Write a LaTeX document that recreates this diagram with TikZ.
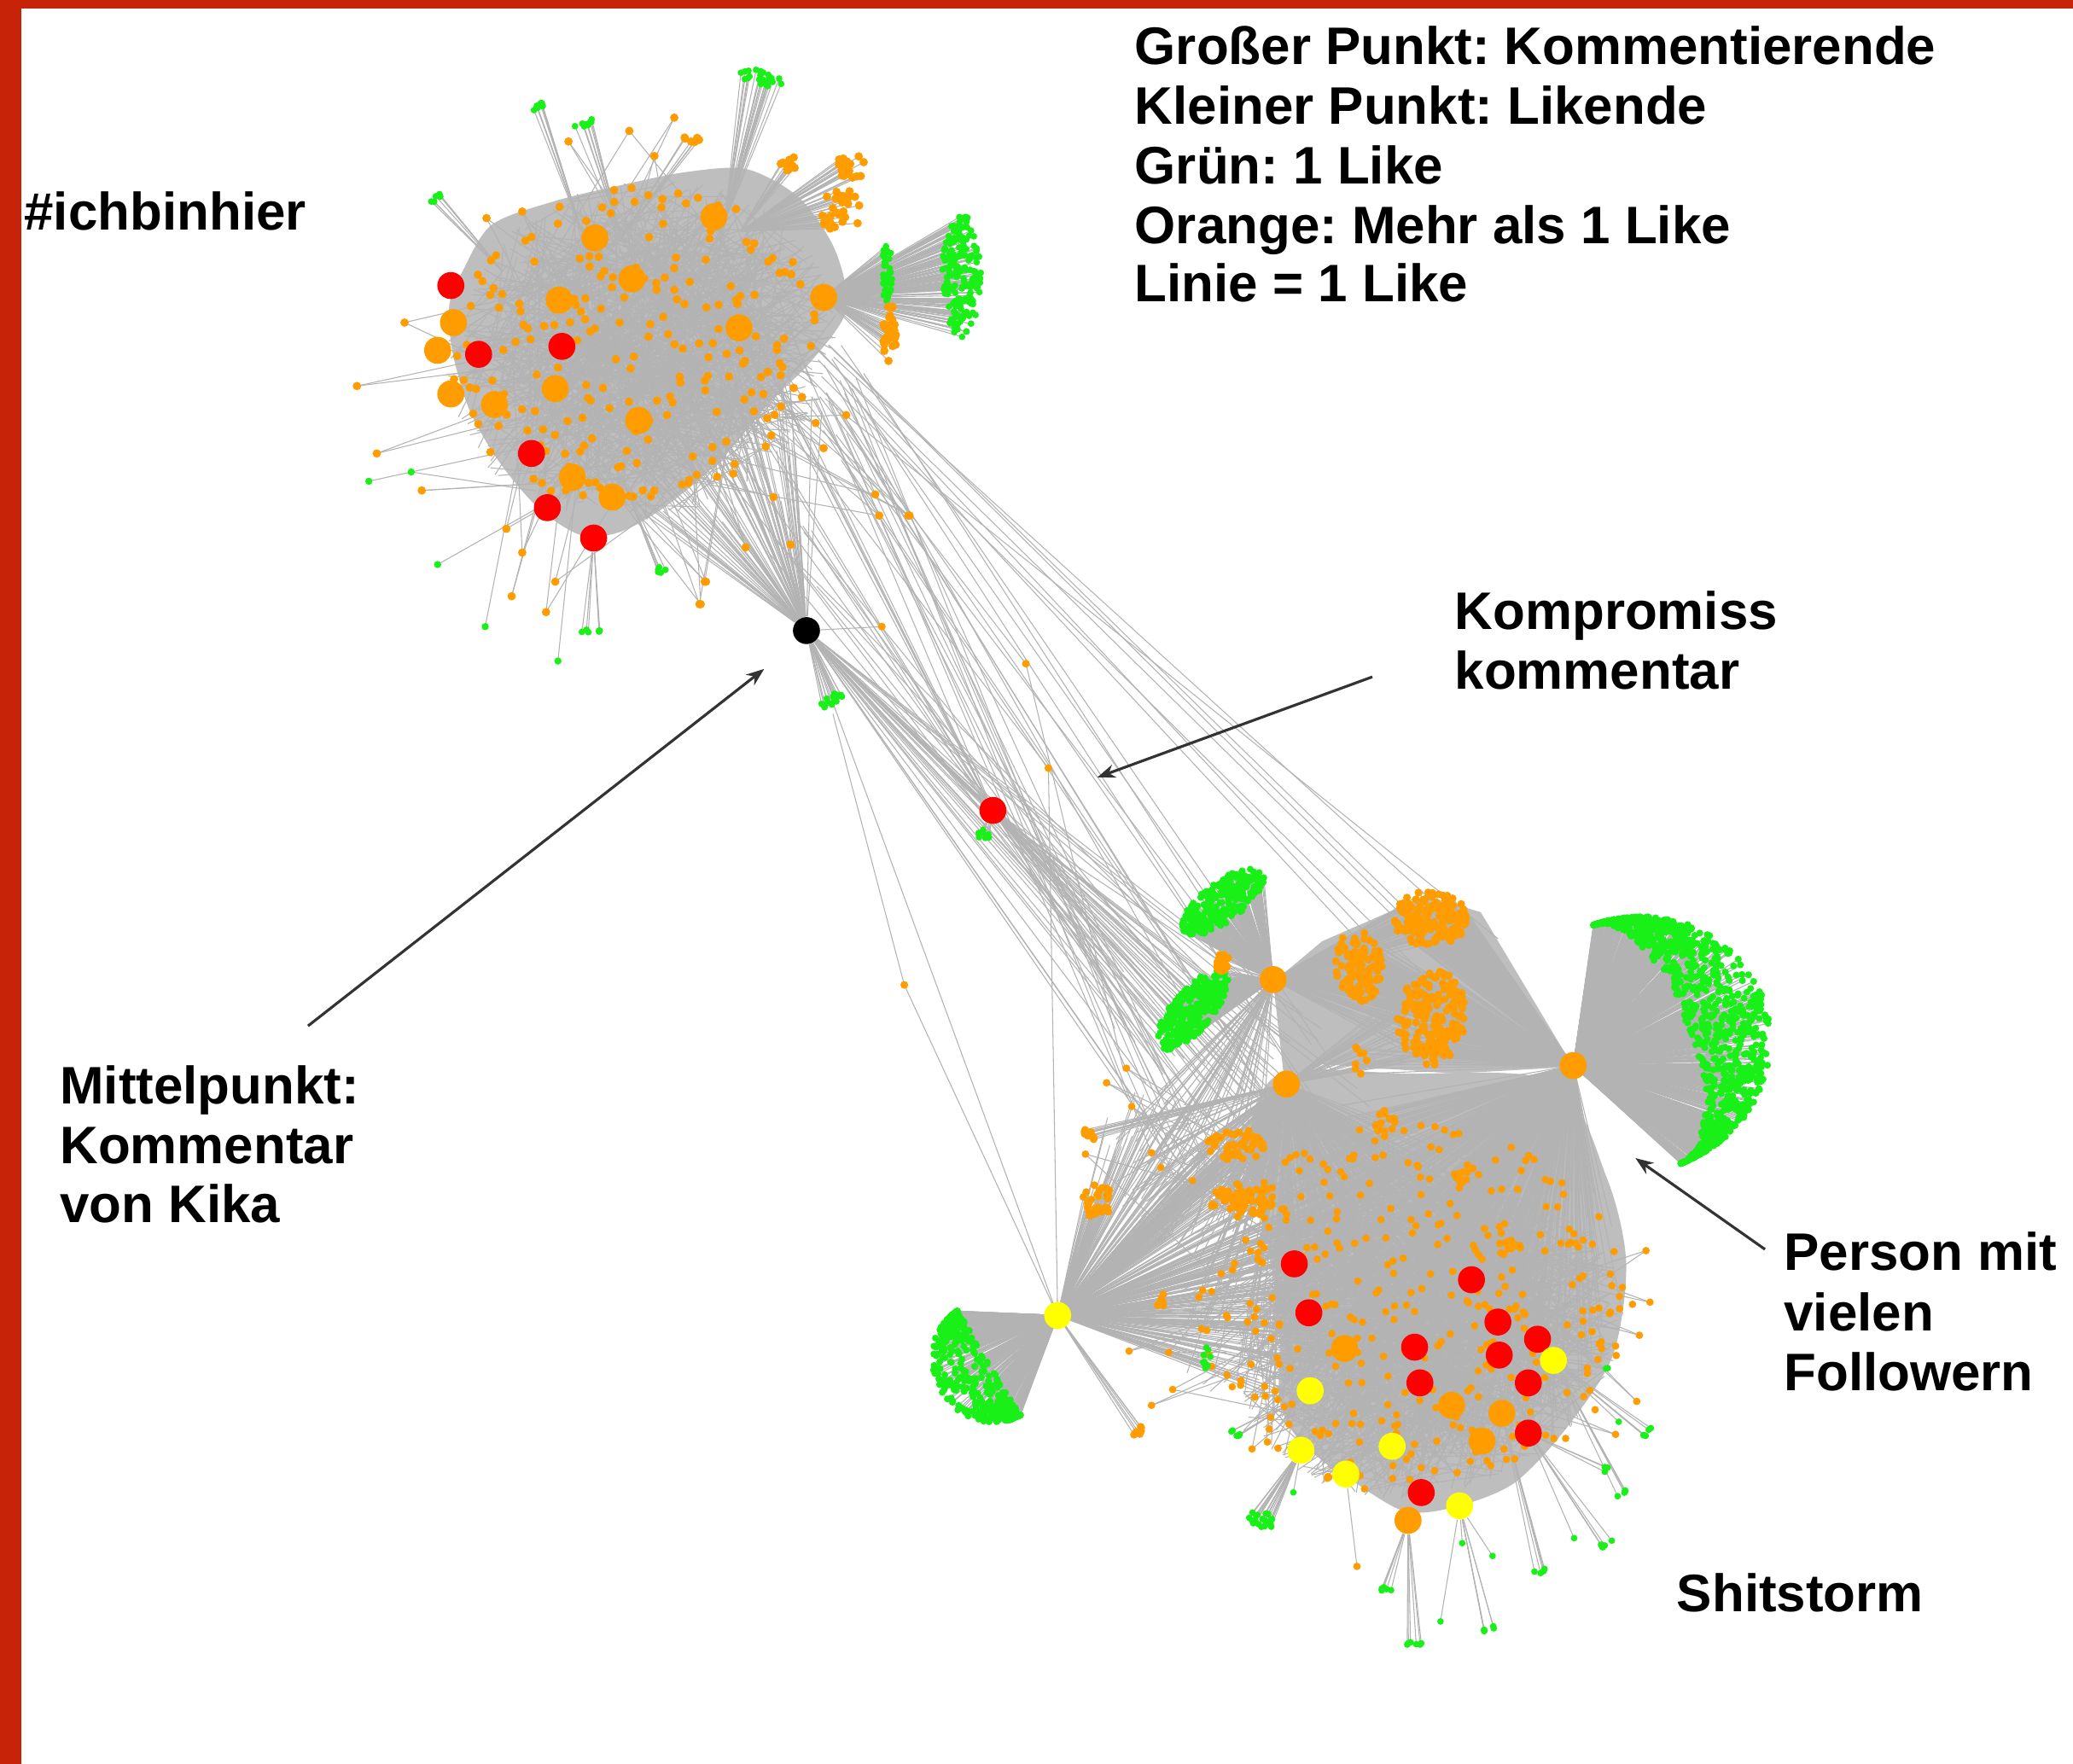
\documentclass[tikz,border=0pt]{standalone}
\usepackage{fontspec}
\setmainfont{Liberation Sans}
\frenchspacing
\usetikzlibrary{arrows.meta}
\pgfdeclarelayer{edges}
\pgfsetlayers{edges,main}
\definecolor{frameRed}{HTML}{C62309}
\definecolor{edgeGray}{HTML}{B3B3B3}
\definecolor{dotOrange}{HTML}{FF9C00}
\definecolor{dotGreen}{HTML}{18F018}
\definecolor{dotRed}{HTML}{FF0000}
\definecolor{dotYellow}{HTML}{FFFF00}
\definecolor{arrowGray}{HTML}{333333}
% random point in rotated ellipse
\newcommand\ellpt[5]{%
  \pgfmathsetmacro\tA{360*rnd}%
  \pgfmathsetmacro\tR{sqrt(rnd)}%
  \pgfmathsetmacro\lx{#3*\tR*cos(\tA)}%
  \pgfmathsetmacro\ly{#4*\tR*sin(\tA)}%
  \pgfmathsetmacro\px{#1+\lx*cos(#5)-\ly*sin(#5)}%
  \pgfmathsetmacro\py{#2+\lx*sin(#5)+\ly*cos(#5)}}
% random point in half-ellipse / crescent
\newcommand\dpt[6]{%
  \pgfmathsetmacro\tA{-90+180*rnd}%
  \pgfmathsetmacro\tU{#6+(1-#6)*rnd}%
  \pgfmathsetmacro\lx{#4*\tU*cos(\tA)}%
  \pgfmathsetmacro\ly{#3*sin(\tA)}%
  \pgfmathsetmacro\px{#1+\lx*cos(#5)-\ly*sin(#5)}%
  \pgfmathsetmacro\py{#2+\lx*sin(#5)+\ly*cos(#5)}}
\newcommand\spokeE[7]{\begin{pgfonlayer}{edges}\foreach \i in {1,...,#7}{\ellpt{#2}{#3}{#4}{#5}{#6}\draw[edge] (#1) -- (\px,\py);}\end{pgfonlayer}}
\newcommand\dotsE[7]{\foreach \i in {1,...,#6}{\ellpt{#1}{#2}{#3}{#4}{#5}\fill[#7] (\px,\py) circle[radius=\dr];}}
\newcommand\fanE[9]{\pgfmathsetseed{#9}\spokeE{#1}{#2}{#3}{#4}{#5}{#6}{#7}\pgfmathsetseed{#9}\dotsE{#2}{#3}{#4}{#5}{#6}{#7}{#8}}
\newcommand\fanD[9]{%
  \pgfmathsetseed{#9}\begin{pgfonlayer}{edges}\foreach \i in {1,...,#8}{\dpt{#2}{#3}{#4}{#5}{#6}{#7}\draw[edge] (#1) -- (\px,\py);}\end{pgfonlayer}%
  \pgfmathsetseed{#9}\foreach \i in {1,...,#8}{\dpt{#2}{#3}{#4}{#5}{#6}{#7}\fill[dotGreen] (\px,\py) circle[radius=\dr];}}
\newcommand\meshE[7]{\pgfmathsetseed{#7}\begin{pgfonlayer}{edges}\foreach \i in {1,...,#6}{\ellpt{#1}{#2}{#3}{#4}{#5}\let\qx\px\let\qy\py\ellpt{#1}{#2}{#3}{#4}{#5}\draw[edge] (\qx,\qy) -- (\px,\py);}\end{pgfonlayer}}
\newcommand\linkE[9]{\begin{pgfonlayer}{edges}\foreach \i in {1,...,#9}{\ellpt{#1}{#2}{#3}{#4}{0}\let\qx\px\let\qy\py\ellpt{#5}{#6}{#7}{#8}{0}\draw[edge] (\qx,\qy) -- (\px,\py);}\end{pgfonlayer}}
% satellites: list, target cx, cy, rx, ry, lines each, colour
\newcommand\satE[7]{\foreach \sX/\sY in {#1}{\foreach \j in {1,...,#6}{\ellpt{#2}{#3}{#4}{#5}{0}\begin{pgfonlayer}{edges}\draw[edge] (\sX,\sY) -- (\px,\py);\end{pgfonlayer}}\fill[#7] (\sX,\sY) circle[radius=\dr];}}
\begin{document}
\begin{tikzpicture}[x=0.01549cm,y=-0.01549cm,
  edge/.style={draw=edgeGray,line width=0.3pt},
  big/.style={circle,inner sep=0pt,minimum size=9pt},
  lbl/.style={font=\bfseries\fontsize{17.6}{19.8}\selectfont,anchor=base west,inner sep=0pt},
  pointer/.style={draw=arrowGray,line width=0.9pt,-{Stealth[length=6pt,width=4.5pt]}}]
\useasboundingbox (0,0) rectangle (1568,1334);
\begin{pgfonlayer}{edges}
\fill[white] (0,0) rectangle (1568,1334);
% cluster cores
\fill[edgeGray!85] plot[smooth cycle] coordinates {(350,205) (372,170) (420,152) (470,140) (520,130) (565,128) (605,150) (632,190) (640,235) (612,275) (578,308) (548,345) (505,382) (470,402) (440,405) (408,385) (378,350) (355,310) (342,265) (340,230)};
\fill[edgeGray!85] plot[smooth cycle] coordinates {(975,810) (1060,812) (1175,818) (1215,890) (1230,955) (1220,1025) (1185,1080) (1145,1122) (1100,1140) (1062,1143) (1020,1118) (985,1092) (968,1060) (968,1000) (958,940) (945,880) (950,835)};
\fill[edgeGray!85] (963,743) -- (1000,712) -- (1055,688) -- (1080,678) -- (1120,690) -- (1190,807) -- (1100,812) -- (1000,805) -- (972,822) -- cycle;
\end{pgfonlayer}
\fill[frameRed] (0,0) rectangle (16,1334);
\fill[frameRed] (0,0) rectangle (1568,6.5);

% ---------------- cluster 1 ----------------
\coordinate (h1) at (623,225);
\coordinate (t1) at (548,168);
\coordinate (t2) at (440,175);
\coordinate (t3) at (470,180);
\coordinate (t4) at (380,205);
\coordinate (t5) at (560,175);
\coordinate (t6) at (470,360);
\meshE{485}{265}{150}{128}{-15}{650}{11}
\def\dr{1.4pt}
\pgfmathsetseed{12}\dotsE{480}{262}{140}{120}{-15}{230}{fill=dotOrange}
\def\dr{1.1pt}
\fanE{h1}{727}{209}{15}{47}{0}{190}{fill=dotGreen}{21}
\fanE{h1}{671}{207}{4}{24}{0}{35}{fill=dotGreen}{22}
\fanE{t1}{575}{59}{18}{6}{12}{24}{fill=dotGreen}{24}
\fanE{t2}{408}{79}{7}{3}{-30}{8}{fill=dotGreen}{25}
\fanE{t3}{442}{94}{8}{3}{-20}{8}{fill=dotGreen}{26}
\fanE{t4}{330}{150}{7}{3}{-50}{7}{fill=dotGreen}{27}
\fanE{t6}{502}{430}{6}{3}{-30}{5}{fill=dotGreen}{28}
\def\dr{1.4pt}
\fanE{h1}{673}{252}{5}{24}{0}{30}{fill=dotOrange}{23}
\fanE{t5}{644}{126}{12}{9}{0}{20}{fill=dotOrange}{29}
\fanE{t5}{636}{160}{15}{18}{0}{30}{fill=dotOrange}{30}
\fanE{t5}{598}{124}{8}{6}{0}{10}{fill=dotOrange}{31}
\fanE{t3}{524}{105}{10}{3}{0}{6}{fill=dotOrange}{32}
\pgfmathsetseed{40}
\satE{270/292,285/343,319/371,383/400,395/418,387/451,413/463,420/440,530/457,534/440,598/412,585/376,617/320,640/314,623/339,662/374,687/390,665/390,688/390,510/89,476/99,430/107,495/118,368/165,395/160,306/244,564/414,533/440,529/457}{485}{268}{120}{100}{2}{fill=dotOrange}
\def\dr{1.2pt}
\satE{279/364,311/357,331/427,367/474,422/500}{430}{330}{60}{50}{1}{fill=dotGreen}

% big nodes cluster 1
\node[big,fill=dotOrange] (c1o1) at (450,180) {};
\node[big,fill=dotOrange] (c1o2) at (540,164) {};
\node[big,fill=dotOrange] (c1o3) at (478,211) {};
\node[big,fill=dotOrange] (c1o4) at (423,227) {};
\node[big,fill=dotOrange] (c1o5) at (623,225) {};
\node[big,fill=dotOrange] (c1o6) at (559,248) {};
\node[big,fill=dotOrange] (c1o7) at (343,244) {};
\node[big,fill=dotOrange] (c1o8) at (331,265) {};
\node[big,fill=dotOrange] (c1o9) at (341,298) {};
\node[big,fill=dotOrange] (c1o10) at (374,306) {};
\node[big,fill=dotOrange] (c1o11) at (420,294) {};
\node[big,fill=dotOrange] (c1o12) at (483,318) {};
\node[big,fill=dotOrange] (c1o13) at (433,361) {};
\node[big,fill=dotOrange] (c1o14) at (463,376) {};
\node[big,fill=dotRed] (c1r1) at (341,216) {};
\node[big,fill=dotRed] (c1r2) at (362,268) {};
\node[big,fill=dotRed] (c1r3) at (425,262) {};
\node[big,fill=dotRed] (c1r4) at (402,343) {};
\node[big,fill=dotRed] (c1r5) at (414,384) {};
\node[big,fill=dotRed] (c1r6) at (449,407) {};
\def\dr{1.1pt}
\fanE{c1r6}{447}{478}{8}{2}{0}{6}{fill=dotGreen}{33}

% ---------------- between ----------------
\node[big,fill=black] (kika) at (610,477) {};
\node[big,fill=dotRed] (komp) at (751,613) {};
\pgfmathsetseed{50}
\spokeE{kika}{540}{330}{90}{70}{-30}{75}
\spokeE{kika}{930}{820}{80}{90}{0}{24}
\spokeE{kika}{751}{613}{3}{3}{0}{6}
\spokeE{komp}{960}{820}{80}{70}{0}{22}
\spokeE{komp}{570}{300}{60}{60}{0}{10}
\linkE{630}{300}{25}{50}{920}{810}{90}{90}{22}
\linkE{600}{420}{30}{30}{880}{760}{60}{60}{8}
\linkE{625}{285}{20}{40}{1090}{720}{60}{40}{8}
\fanE{kika}{630}{530}{10}{5}{-30}{15}{fill=dotGreen}{51}
\fanE{komp}{744}{631}{6}{4}{0}{8}{fill=dotGreen}{52}
\coordinate (m1) at (684,745);
\coordinate (m2) at (793,581);
\coordinate (m3) at (776,502);
\coordinate (m4) at (667,474);
\begin{pgfonlayer}{edges}
\draw[edge] (kika) -- (m4);
\draw[edge] (630,540) -- (m1) -- (800,995);
\draw[edge] (600,330) -- (m2) -- (800,995);
\draw[edge] (620,300) -- (m3) -- (850,810);
\draw[edge] (kika) -- (800,995);
\end{pgfonlayer}
\def\dr{1.3pt}
\foreach \mm in {m1,m2,m3,m4}{\fill[dotOrange] (\mm) circle[radius=\dr];}

% ---------------- cluster 2 ----------------
\coordinate (c2h) at (1190,806);
\coordinate (c2b) at (963,741);
\coordinate (c2c) at (973,820);
\coordinate (c2y) at (800,995);
\pgfmathsetseed{60}
\spokeE{c2h}{1060}{980}{170}{150}{0}{380}
\spokeE{c2c}{1030}{980}{150}{130}{0}{220}
\spokeE{c2y}{990}{950}{140}{110}{0}{240}
\spokeE{c2b}{1082}{695}{28}{20}{0}{60}
\spokeE{c2b}{1028}{731}{17}{26}{0}{50}
\spokeE{c2b}{1083}{770}{25}{36}{0}{60}
\spokeE{c2c}{1083}{770}{25}{36}{0}{40}
\spokeE{c2c}{900}{900}{60}{60}{0}{60}
\spokeE{c2b}{900}{880}{60}{60}{0}{40}
\spokeE{c2y}{880}{860}{50}{40}{0}{50}
\meshE{1080}{1010}{150}{120}{-20}{750}{61}
\def\dr{1.15pt}
\fanD{c2h}{1238}{790}{96}{102}{-20}{0.4}{1100}{62}
\fanD{c2y}{748}{1031}{46}{42}{148.8}{0}{380}{63}
\fanE{c2b}{925}{682}{37}{15}{-37}{260}{fill=dotGreen}{64}
\fanE{c2b}{902}{764}{38}{15}{-50}{260}{fill=dotGreen}{65}
\def\dr{1.3pt}
\fanE{c2h}{1082}{695}{28}{21}{0}{170}{fill=dotOrange}{66}
\fanE{c2h}{1083}{770}{26}{36}{5}{190}{fill=dotOrange}{67}
\fanE{c2h}{1028}{731}{18}{27}{-8}{110}{fill=dotOrange}{68}
\fanE{c2y}{935}{866}{22}{12}{0}{50}{fill=dotOrange}{69}
\fanE{c2c}{939}{908}{24}{13}{0}{60}{fill=dotOrange}{70}
\fanE{c2y}{830}{908}{11}{15}{0}{30}{fill=dotOrange}{71}
\fanE{c2c}{824}{857}{6}{6}{0}{10}{fill=dotOrange}{72}
\fanE{c2y}{861}{1083}{5}{5}{0}{6}{fill=dotOrange}{73}
\fanE{c2h}{1048}{850}{8}{10}{0}{15}{fill=dotOrange}{74}
\fanE{c2h}{1108}{888}{8}{8}{0}{10}{fill=dotOrange}{75}
\fanE{c2h}{1141}{944}{10}{6}{0}{10}{fill=dotOrange}{76}
\fanE{c2h}{1030}{800}{6}{14}{0}{8}{fill=dotOrange}{77}
\fanE{c2y}{878}{984}{3}{8}{0}{6}{fill=dotOrange}{78}
\fanE{c2b}{925}{727}{7}{8}{0}{8}{fill=dotOrange}{100}
\def\dr{1.25pt}
\pgfmathsetseed{79}\dotsE{1070}{990}{165}{140}{0}{340}{fill=dotOrange}
\pgfmathsetseed{80}
\satE{852/808,837/819,821/873,856/837,871/872,878/883,902/893,854/1022,884/1023,887/1051,871/1063,947/1096,960/1081,1245/946,1248/985,1240/1010,1238/1060,1222/1085}{1040}{990}{120}{100}{2}{fill=dotOrange}
\node[circle,inner sep=0pt,minimum size=5.5pt,fill=dotOrange] (c2s) at (924,731) {};

% big nodes cluster 2
\node[big,fill=dotOrange] (c2hn) at (c2h) {};
\node[big,fill=dotOrange] (c2bn) at (c2b) {};
\node[big,fill=dotOrange] (c2cn) at (c2c) {};
\node[big,fill=dotYellow] (c2yn) at (c2y) {};
\node[big,fill=dotOrange] (c2o1) at (1017,1020) {};
\node[big,fill=dotOrange] (c2o2) at (1098,1063) {};
\node[big,fill=dotOrange] (c2o3) at (1136,1069) {};
\node[big,fill=dotOrange] (c2o4) at (1121,1090) {};
\node[big,fill=dotOrange] (c2o5) at (1065,1150) {};
\node[big,fill=dotRed] (c2r1) at (979,956) {};
\node[big,fill=dotRed] (c2r2) at (1113,968) {};
\node[big,fill=dotRed] (c2r3) at (990,993) {};
\node[big,fill=dotRed] (c2r4) at (1133,1000) {};
\node[big,fill=dotRed] (c2r5) at (1163,1013) {};
\node[big,fill=dotRed] (c2r6) at (1070,1019) {};
\node[big,fill=dotRed] (c2r7) at (1134,1025) {};
\node[big,fill=dotRed] (c2r8) at (1074,1046) {};
\node[big,fill=dotRed] (c2r9) at (1156,1046) {};
\node[big,fill=dotRed] (c2r10) at (1156,1084) {};
\node[big,fill=dotRed] (c2r11) at (1075,1129) {};
\node[big,fill=dotYellow] (c2y1) at (1175,1029) {};
\node[big,fill=dotYellow] (c2y2) at (991,1052) {};
\node[big,fill=dotYellow] (c2y3) at (1053,1094) {};
\node[big,fill=dotYellow] (c2y4) at (984,1097) {};
\node[big,fill=dotYellow] (c2y5) at (1018,1115) {};
\node[big,fill=dotYellow] (c2y6) at (1104,1139) {};
% bottom fans
\def\dr{1.1pt}
\fanE{c2y}{913}{1028}{3}{9}{0}{10}{fill=dotGreen}{81}
\fanE{c2y2}{934}{1084}{4}{4}{0}{6}{fill=dotGreen}{82}
\fanE{c2y4}{954}{1150}{10}{7}{30}{22}{fill=dotGreen}{83}
\fanE{c2o5}{1050}{1202}{6}{2}{0}{5}{fill=dotGreen}{84}
\fanE{c2o5}{1070}{1243}{7}{2}{0}{6}{fill=dotGreen}{85}
\fanE{c2y6}{1089}{1227}{1}{1}{0}{1}{fill=dotGreen}{86}
\fanE{c2y6}{1127}{1232}{6}{2}{-20}{5}{fill=dotGreen}{87}
\fanE{c2y6}{1129}{1176}{1}{1}{0}{1}{fill=dotGreen}{88}
\fanE{c2o3}{1163}{1189}{6}{2}{-20}{5}{fill=dotGreen}{89}
\fanE{c2r10}{1191}{1164}{1}{1}{0}{1}{fill=dotGreen}{90}
\fanE{c2r10}{1214}{1168}{6}{2}{-30}{5}{fill=dotGreen}{91}
\fanE{c2y1}{1226}{1130}{5}{2}{-40}{5}{fill=dotGreen}{92}
\fanE{c2r10}{1215}{1111}{4}{2}{-40}{3}{fill=dotGreen}{93}
\fanE{c2y1}{1246}{1084}{5}{2}{-50}{5}{fill=dotGreen}{94}
\fanE{c2y1}{1224}{1075}{1}{1}{0}{1}{fill=dotGreen}{95}
\fanE{c2y1}{1215}{1036}{3}{2}{0}{2}{fill=dotGreen}{96}
\fanE{c2y4}{979}{1129}{1}{1}{0}{1}{fill=dotGreen}{97}
\fanE{c2y6}{1106}{1167}{1}{1}{0}{1}{fill=dotGreen}{98}
\def\dr{1.25pt}
\fanE{c2y5}{1026}{1185}{1}{1}{0}{1}{fill=dotOrange}{99}

% ---------------- annotations ----------------
\coordinate (a1s) at (233,776); \coordinate (a1e) at (578,506);
\coordinate (a2s) at (1038,512); \coordinate (a2e) at (830,588);
\coordinate (a3s) at (1335,945); \coordinate (a3e) at (1237,876);
\draw[pointer] (a1s) -- (a1e);
\draw[pointer] (a2s) -- (a2e);
\draw[pointer] (a3s) -- (a3e);

\node[lbl] (leg1) at (858,49) {Großer Punkt: Kommentierende};
\node[lbl] (leg2) at (858,94) {Kleiner Punkt: Likende};
\node[lbl] (leg3) at (858,139) {Grün: 1 Like};
\node[lbl] (leg4) at (858,184) {Orange: Mehr als 1 Like};
\node[lbl] (leg5) at (858,228) {Linie = 1 Like};
\node[lbl] (tag) at (18,174) {\#ichbinhier};
\node[lbl] (kp1) at (1100,476) {Kompromiss};
\node[lbl] (kp2) at (1100,521) {kommentar};
\node[lbl] (mp1) at (45,835) {Mittelpunkt:};
\node[lbl] (mp2) at (45,880) {Kommentar};
\node[lbl] (mp3) at (45,925) {von Kika};
\node[lbl] (pf1) at (1349,961) {Person mit};
\node[lbl] (pf2) at (1349,1007) {vielen};
\node[lbl] (pf3) at (1349,1052) {Followern};
\node[lbl] (shit) at (1268,1219) {Shitstorm};
\end{tikzpicture}
\end{document}
